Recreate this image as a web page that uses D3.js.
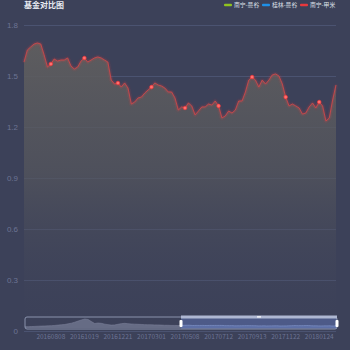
<!DOCTYPE html>
<html>
<head>
<meta charset="utf-8">
<script src="https://cdn.jsdelivr.net/npm/d3@7"></script>
<style>
	body { margin: 0; background: #3c4159; }
	svg { display: block; font-family: 'Noto Sans CJK SC', 'Noto Sans', sans-serif; }
</style>
</head>
<body>
<div id="chart"></div>
<script>
var title = '基金对比图';
var legendNames  = ['南宁-曼谷', '桂林-曼谷', '南宁-甲米'];
var legendColors = ['#8fc31f', '#1e90e8', '#e8383d'];
var yTicks = [0, 0.3, 0.6, 0.9, 1.2, 1.5, 1.8];

// dates in the zoom window
var dates = [
	'20160613', '20160620', '20160627', '20160704', '20160711', '20160718', '20160725', '20160801', '20160808', '20160815',
	'20160822', '20160829', '20160905', '20160912', '20160919', '20160926', '20161010', '20161014', '20161019', '20161026',
	'20161102', '20161109', '20161116', '20161123', '20161130', '20161207', '20161212', '20161216', '20161221', '20161228',
	'20170104', '20170111', '20170118', '20170125', '20170208', '20170215', '20170222', '20170224', '20170301', '20170308',
	'20170315', '20170322', '20170329', '20170405', '20170412', '20170419', '20170426', '20170503', '20170508', '20170515',
	'20170522', '20170526', '20170602', '20170609', '20170616', '20170623', '20170630', '20170707', '20170712', '20170719',
	'20170726', '20170802', '20170809', '20170816', '20170823', '20170830', '20170906', '20170911', '20170913', '20170920',
	'20170927', '20171011', '20171018', '20171025', '20171101', '20171108', '20171115', '20171117', '20171122', '20171129',
	'20171206', '20171213', '20171220', '20171227', '20180103', '20180110', '20180117', '20180119', '20180124', '20180131',
	'20180207', '20180214', '20180228', '20180307'
];
// 南宁-甲米
var values = [
	1.582, 1.653, 1.671, 1.688, 1.694, 1.688, 1.624, 1.553, 1.571, 1.600,
	1.588, 1.594, 1.594, 1.606, 1.559, 1.541, 1.553, 1.588, 1.606, 1.582,
	1.594, 1.606, 1.612, 1.606, 1.594, 1.582, 1.476, 1.453, 1.459, 1.435,
	1.459, 1.429, 1.335, 1.347, 1.371, 1.376, 1.400, 1.418, 1.435, 1.459,
	1.447, 1.441, 1.429, 1.406, 1.406, 1.371, 1.300, 1.318, 1.312, 1.341,
	1.324, 1.271, 1.294, 1.318, 1.318, 1.335, 1.329, 1.353, 1.324, 1.253,
	1.265, 1.294, 1.282, 1.300, 1.353, 1.353, 1.406, 1.476, 1.494, 1.476,
	1.435, 1.476, 1.453, 1.476, 1.506, 1.512, 1.500, 1.453, 1.376, 1.324,
	1.335, 1.324, 1.312, 1.276, 1.282, 1.318, 1.341, 1.312, 1.347, 1.324,
	1.235, 1.253, 1.359, 1.447
];
// earlier part, only seen in the zoom slider
var earlyValues = [
	0.8, 0.85, 0.9, 1.0, 1.1, 1.2, 1.25, 1.35, 1.45, 1.6,
	1.8, 2.0, 2.2, 2.6, 3.0, 3.6, 4.3, 5.0, 5.6, 5.3,
	4.0, 2.8, 3.1, 2.9, 2.4, 2.1, 1.8, 1.9, 2.3, 2.7,
	2.9, 2.7, 2.5, 2.4, 2.3, 2.2, 2.1, 2.0, 2.0, 1.9,
	1.9, 1.8, 1.7, 1.7, 1.6, 1.6, 1.55
];

var width = 350, height = 350;
var margin = {top: 25, right: 14, bottom: 19, left: 24};
var viewWidth  = width - margin.left - margin.right;
var viewHeight = height - margin.top - margin.bottom;

var svg = d3.select('#chart').append('svg')
	.attr('width', width)
	.attr('height', height);

var defs = svg.append('defs');
var grad = defs.append('linearGradient')
	.attr('id', 'areaGrad')
	.attr('x1', 0).attr('y1', 0).attr('x2', 0).attr('y2', 1);
grad.append('stop').attr('offset', '0%').attr('stop-color', '#5f5e5f').attr('stop-opacity', 0.95);
grad.append('stop').attr('offset', '45%').attr('stop-color', '#56575d').attr('stop-opacity', 0.7);
grad.append('stop').attr('offset', '100%').attr('stop-color', '#3c4159').attr('stop-opacity', 0);

var glow = defs.append('filter').attr('id', 'glow')
	.attr('x', '-20%').attr('y', '-20%').attr('width', '140%').attr('height', '140%');
glow.append('feGaussianBlur').attr('stdDeviation', 1);

// title + legend
svg.append('text')
	.attr('x', 24).attr('y', 8)
	.attr('fill', '#e8eaf2')
	.style('font-size', '8px')
	.style('font-weight', 'bold')
	.text(title);

var legend = svg.append('g').attr('class', 'legend')
	.selectAll('g')
	.data(legendNames)
	.enter().append('g')
	.attr('transform', function(d, i) { return 'translate(' + (224 + i * 38) + ',5)'; });
legend.append('rect')
	.attr('width', 8).attr('height', 2.5).attr('y', -1.2).attr('rx', 1)
	.attr('fill', function(d, i) { return legendColors[i]; });
legend.append('text')
	.attr('x', 10).attr('y', 2.3)
	.attr('fill', '#dfe2ea')
	.style('font-size', '5.8px')
	.text(function(d) { return d; });

var vis = svg.append('g')
	.attr('transform', 'translate(' + margin.left + ',' + margin.top + ')');

var xScale = d3.scaleLinear()
	.domain([0, values.length - 1])
	.range([0, viewWidth]);
var yScale = d3.scaleLinear()
	.domain([0, 1.8])
	.range([viewHeight, 0]);

// grid
vis.append('g').attr('class', 'grid')
	.selectAll('line')
	.data(yTicks)
	.enter().append('line')
	.attr('x1', 0).attr('x2', viewWidth)
	.attr('y1', function(d) { return Math.round(yScale(d)) + 0.5; })
	.attr('y2', function(d) { return Math.round(yScale(d)) + 0.5; })
	.attr('stroke', '#4b5371')
	.attr('stroke-width', 1);

var yAxis = d3.axisLeft(yScale)
	.tickValues(yTicks)
	.tickSize(0)
	.tickPadding(6)
	.tickFormat(d3.format('~g'));
vis.append('g').call(yAxis)
	.call(function(g) { g.select('.domain').remove(); })
	.selectAll('text')
	.attr('fill', '#6c7494')
	.style('font-size', '8px');

// area + line
var area = d3.area()
	.x(function(d, i) { return xScale(i); })
	.y0(viewHeight)
	.y1(function(d) { return yScale(d); });
var line = d3.line()
	.x(function(d, i) { return xScale(i); })
	.y(function(d) { return yScale(d); });

vis.append('path')
	.attr('d', area(values))
	.attr('fill', 'url(#areaGrad)');
vis.append('path')
	.attr('d', line(values))
	.attr('fill', 'none')
	.attr('stroke', '#ff3b3b')
	.attr('stroke-opacity', 0.35)
	.attr('stroke-width', 1.8)
	.attr('filter', 'url(#glow)');
vis.append('path')
	.attr('d', line(values))
	.attr('fill', 'none')
	.attr('stroke', '#c9484b')
	.attr('stroke-width', 0.9);

// symbols every 10th point, same as labels
var shown = values.map(function(d, i) { return i; }).filter(function(i) { return i % 10 === 8; });
vis.append('g').selectAll('circle')
	.data(shown)
	.enter().append('circle')
	.attr('cx', function(i) { return xScale(i); })
	.attr('cy', function(i) { return yScale(values[i]); })
	.attr('r', 1.8)
	.attr('fill', '#ff7070')
	.attr('stroke', '#ff3030')
	.attr('stroke-width', 0.6);

// x labels
vis.append('g').selectAll('text')
	.data(shown)
	.enter().append('text')
	.attr('x', function(i) { return xScale(i); })
	.attr('y', viewHeight + 8)
	.attr('text-anchor', 'middle')
	.attr('fill', '#6c7494')
	.style('font-size', '6.5px')
	.text(function(i) { return dates[i]; });

// zoom slider: window covers the right half
var slider = {x: 25, y: 317, w: 312, h: 12};
var selX = slider.x + slider.w / 2;
var sxEarly = d3.scaleLinear().domain([0, earlyValues.length]).range([slider.x, selX]);
var sxMain  = d3.scaleLinear().domain([0, values.length - 1]).range([selX, slider.x + slider.w]);
var sy = d3.scaleLinear()
	.domain([0, d3.max(earlyValues.concat(values))])
	.range([slider.y + slider.h - 1, slider.y + 2]);

var sl = svg.append('g').attr('class', 'slider');
var base = slider.y + slider.h - 1;
var earlyPts = earlyValues.map(function(v, i) { return [sxEarly(i), sy(v)]; })
	.concat([[sxMain(0), sy(values[0])]]);
var mainPts = values.map(function(v, i) { return [sxMain(i), sy(v)]; });
var shadowArea = d3.area().y0(base);

sl.append('path')
	.attr('d', shadowArea(earlyPts))
	.attr('fill', '#666c85');
sl.append('path')
	.attr('d', d3.line()(earlyPts))
	.attr('fill', 'none')
	.attr('stroke', '#7a8099')
	.attr('stroke-width', 0.6);
sl.append('rect')
	.attr('x', selX).attr('y', slider.y + 1)
	.attr('width', slider.x + slider.w - selX).attr('height', slider.h - 1)
	.attr('fill', '#4d5a88');
sl.append('path')
	.attr('d', shadowArea(mainPts))
	.attr('fill', '#5d6fa6');
sl.append('path')
	.attr('d', d3.line()(mainPts))
	.attr('fill', 'none')
	.attr('stroke', '#7f93c9')
	.attr('stroke-width', 0.7);
sl.append('rect')
	.attr('x', slider.x).attr('y', slider.y)
	.attr('width', slider.w).attr('height', slider.h)
	.attr('rx', 2)
	.attr('fill', 'none')
	.attr('stroke', '#8a93ad')
	.attr('stroke-width', 1);
// move bar on top of selection
sl.append('rect')
	.attr('x', selX).attr('y', slider.y - 1.5)
	.attr('width', slider.x + slider.w - selX).attr('height', 3)
	.attr('fill', '#aeb7d2');
sl.append('rect')
	.attr('x', (selX + slider.x + slider.w) / 2 - 2).attr('y', slider.y - 0.7)
	.attr('width', 4).attr('height', 1.2)
	.attr('fill', '#ffffff');
sl.selectAll('.handle')
	.data([selX, slider.x + slider.w])
	.enter().append('rect')
	.attr('class', 'handle')
	.attr('x', function(d) { return d - 1.5; })
	.attr('y', slider.y + 3)
	.attr('width', 3).attr('height', 7)
	.attr('rx', 1)
	.attr('fill', '#ffffff');
</script>
</body>
</html>
